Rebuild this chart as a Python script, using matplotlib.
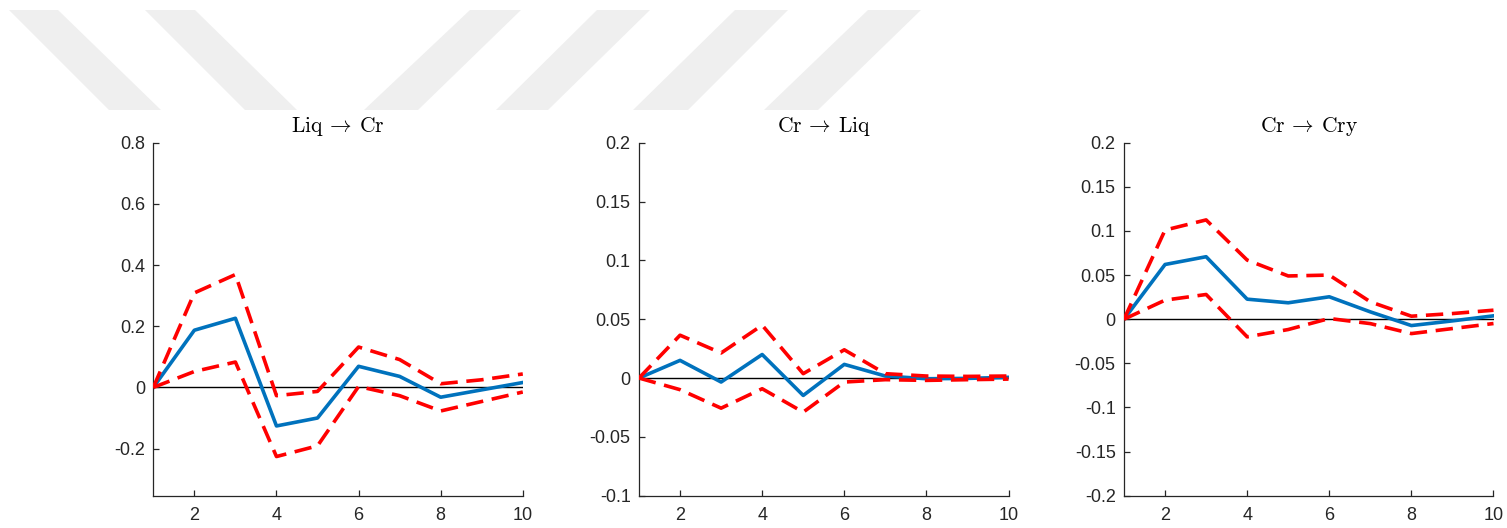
import matplotlib
matplotlib.use('Agg')
import matplotlib.pyplot as plt
from matplotlib.patches import Polygon

plt.rcParams['font.family'] = ['Liberation Sans', 'DejaVu Sans']
plt.rcParams['mathtext.fontset'] = 'cm'
plt.rcParams['axes.unicode_minus'] = False

horizon = [1, 2, 3, 4, 5, 6, 7, 8, 9, 10]

titles = [r'$\mathrm{Liq}\:\rightarrow\:\mathrm{Cr}$',
          r'$\mathrm{Cr}\:\rightarrow\:\mathrm{Liq}$',
          r'$\mathrm{Cr}\:\rightarrow\:\mathrm{Cry}$']

# impulse responses (median) and error bands
liq_cr = [0, 0.187, 0.226, -0.126, -0.100, 0.069, 0.036, -0.032, -0.008, 0.016]
liq_cr_hi = [0, 0.309, 0.369, -0.027, -0.013, 0.132, 0.091, 0.012, 0.025, 0.044]
liq_cr_lo = [0, 0.052, 0.083, -0.226, -0.191, 0.003, -0.027, -0.077, -0.046, -0.015]

cr_liq = [0, 0.0150, -0.0034, 0.0200, -0.0148, 0.0116, 0.0017, -0.0006, -0.0003, 0.0006]
cr_liq_hi = [0, 0.0364, 0.0213, 0.0449, 0.0037, 0.0240, 0.0037, 0.0017, 0.0014, 0.0017]
cr_liq_lo = [0, -0.0099, -0.0256, -0.0091, -0.0290, -0.0034, -0.0014, -0.0020, -0.0014, -0.0009]

cr_cry = [0, 0.0620, 0.0708, 0.0227, 0.0186, 0.0254, 0.0083, -0.0072, -0.0019, 0.0038]
cr_cry_hi = [0, 0.1010, 0.1125, 0.0670, 0.0490, 0.0500, 0.0197, 0.0034, 0.0064, 0.0102]
cr_cry_lo = [0, 0.0216, 0.0280, -0.0200, -0.0117, 0.0008, -0.0050, -0.0163, -0.0106, -0.0049]

responses = [liq_cr, cr_liq, cr_cry]
uppers = [liq_cr_hi, cr_liq_hi, cr_cry_hi]
lowers = [liq_cr_lo, cr_liq_lo, cr_cry_lo]

ylims = [(-0.354, 0.8), (-0.1, 0.2), (-0.2, 0.2)]
yticks = [[-0.2, 0, 0.2, 0.4, 0.6, 0.8],
          [-0.1, -0.05, 0, 0.05, 0.1, 0.15, 0.2],
          [-0.2, -0.15, -0.1, -0.05, 0, 0.05, 0.1, 0.15, 0.2]]
ytick_labels = [['-0.2', '0', '0.2', '0.4', '0.6', '0.8'],
                ['-0.1', '-0.05', '0', '0.05', '0.1', '0.15', '0.2'],
                ['-0.2', '-0.15', '-0.1', '-0.05', '0', '0.05', '0.1', '0.15', '0.2']]

W, H = 1507, 528
fig = plt.figure(figsize=(W / 100, H / 100), dpi=100)

# watermark stripes behind the plots (pixel corners: top-left, top-right, bottom-right, bottom-left)
stripes = [
    [(9, 10), (58, 10), (161, 110), (109, 110)],
    [(145, 10), (195, 10), (297, 110), (245, 110)],
    [(470, 10), (521, 10), (418, 110), (364, 110)],
    [(597, 10), (650, 10), (548, 110), (496, 110)],
    [(735, 10), (788, 10), (688, 110), (633, 110)],
    [(868, 10), (921, 10), (818, 110), (764, 110)],
]
for s in stripes:
    pts = [(x / W, 1 - y / H) for x, y in s]
    fig.patches.append(Polygon(pts, closed=True, transform=fig.transFigure,
                               facecolor='#efefef', edgecolor='none', zorder=0))

lefts = [153.3, 639, 1124]
ax_w = 369.5
ax_top, ax_bot = 142.7, 495.7

dark = '#262626'
for i in range(3):
    ax = fig.add_axes([lefts[i] / W, 1 - ax_bot / H, ax_w / W, (ax_bot - ax_top) / H])
    ax.axhline(0, color='black', lw=1.0, zorder=1)
    ax.plot(horizon, uppers[i], color='#ff0000', lw=2.6, ls=(0, (4.8, 2.4)), zorder=3)
    ax.plot(horizon, lowers[i], color='#ff0000', lw=2.6, ls=(0, (4.8, 2.4)), zorder=3)
    ax.plot(horizon, responses[i], color='#0072bd', lw=2.6, zorder=2)

    ax.set_xlim(1, 10)
    ax.set_ylim(*ylims[i])
    ax.set_xticks([2, 4, 6, 8, 10])
    ax.set_yticks(yticks[i])
    ax.set_yticklabels(ytick_labels[i])
    ax.spines['top'].set_visible(False)
    ax.spines['right'].set_visible(False)
    for sp in ('left', 'bottom'):
        ax.spines[sp].set_color(dark)
        ax.spines[sp].set_linewidth(0.9)
    ax.tick_params(axis='both', direction='in', length=4, width=0.9,
                   colors=dark, labelsize=13)
    ax.tick_params(axis='x', pad=8)
    ax.tick_params(axis='y', pad=6)
    ax.patch.set_alpha(0)
    ax.set_title(titles[i], fontsize=15.5, pad=8, color='black')

fig.savefig('out.png', dpi=100)
